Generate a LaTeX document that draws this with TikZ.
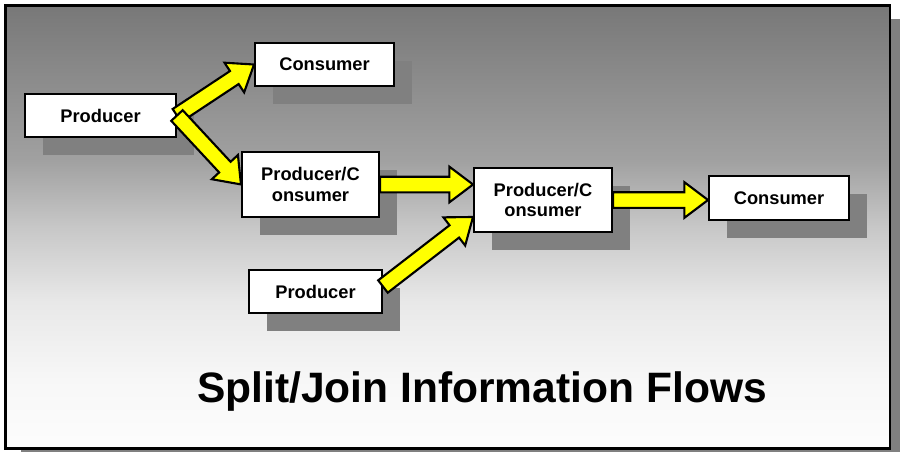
\documentclass[tikz,border=0pt]{standalone}
\usepackage{fontspec}
\setmainfont{Liberation Sans}
\definecolor{shadowgray}{RGB}{128,128,128}
\definecolor{flowyellow}{RGB}{255,255,0}
\usetikzlibrary{shapes.arrows, shadows, calc}

% panel background, dark at the top and white towards the bottom
% (tikz stretches the 25bp--75bp band over the path)
\pgfdeclareverticalshading{panelfade}{100bp}{color(0bp)=(black!1); color(25bp)=(black!1);
  color(32.5bp)=(black!3); color(41.5bp)=(black!9); color(50bp)=(black!22);
  color(57.5bp)=(black!37); color(75bp)=(black!53); color(100bp)=(black!53)}

\tikzset{
  unit/.style={draw, line width=1.1pt, fill=white, align=center, inner sep=2pt,
    font=\fontsize{10.4}{11.6}\selectfont\bfseries,
    general shadow={fill=shadowgray, shadow xshift=0.35cm, shadow yshift=-0.35cm}},
  flow/.style={single arrow, draw, line width=1.2pt, fill=flowyellow, inner sep=0.135cm,
    outer sep=0pt, single arrow head extend=0.2cm, single arrow tip angle=74}
}

% block arrow from #1 to #2, tail flat, tip touching #2
\newcommand\flowarrow[2]{%
  \path let \p1=(#1), \p2=(#2),
    \n1={atan2(\y2-\y1,\x2-\x1)}, \n2={veclen(\x2-\x1,\y2-\y1)} in
    node[flow, minimum height=\n2, rotate=\n1, anchor=tail] at (\p1) {};}

\begin{document}
\begin{tikzpicture}
  \useasboundingbox (0,0) rectangle (18,-9.02);
  \clip (0,0) rectangle (18,-9.02);

  % Panel with its shadow
  \fill[shadowgray] (0.41,-0.38) rectangle (18.10,-9.24);
  \draw[line width=1.7pt, shading=panelfade] (0.11,-0.10) rectangle (17.80,-8.96);

  % Units
  \node[unit, minimum width=3.02cm, minimum height=0.86cm] (prod1) at (2.01,-2.31) {Producer};
  \node[unit, minimum width=2.78cm, minimum height=0.86cm] (cons1) at (6.49,-1.29) {Consumer};
  \node[unit, minimum width=2.74cm, minimum height=1.30cm] (pc1) at (6.21,-3.69) {Producer/C\\onsumer};
  \node[unit, minimum width=2.76cm, minimum height=1.28cm] (pc2) at (10.86,-4.00) {Producer/C\\onsumer};
  \node[unit, minimum width=2.80cm, minimum height=0.88cm] (cons2) at (15.58,-3.96) {Consumer};
  \node[unit, minimum width=2.66cm, minimum height=0.86cm] (prod2) at (6.31,-5.83) {Producer};

  % Flows
  \flowarrow{prod1.east}{cons1.west}
  \flowarrow{prod1.east}{pc1.west}
  \flowarrow{pc1.east}{pc1.east -| pc2.west}
  \flowarrow{[yshift=0.1cm]prod2.east}{[yshift=0.32cm]pc2.south west}
  \flowarrow{pc2.east}{pc2.east -| cons2.west}

  % Caption
  \node[font=\fontsize{24.2}{29}\selectfont\bfseries, anchor=base] (title) at (9.64,-8.04) {Split/Join Information Flows};
\end{tikzpicture}
\end{document}
